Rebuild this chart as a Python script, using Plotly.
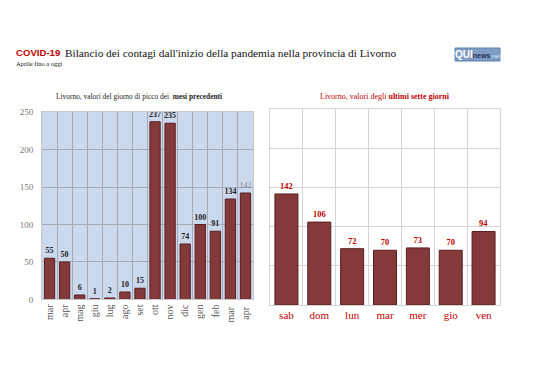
import plotly.graph_objects as go

months = ["mar", "apr", "mag", "giu", "lug", "ago", "set", "ott", "nov", "dic", "gen", "feb", "mar ", "apr "]
month_vals = [55, 50, 6, 1, 2, 10, 15, 237, 235, 74, 100, 91, 134, 142]
days = ["sab", "dom", "lun", "mar", "mer", "gio", "ven"]
day_vals = [142, 106, 72, 70, 73, 70, 94]
y_ticks = [0, 50, 100, 150, 200, 250]

SERIF = "Liberation Serif"
SANS = "Liberation Sans"
BAR = "#843a3a"
EDGE = "#5a1e1e"
RED = "#c00000"

fig = go.Figure()

label_text = ["<b>%d</b>" % v for v in month_vals[:-1]] + [str(month_vals[-1])]
label_colors = ["#222222"] * (len(month_vals) - 1) + ["#888888"]
fig.add_trace(go.Bar(
    x=months, y=month_vals, xaxis="x", yaxis="y",
    marker=dict(color=BAR, line=dict(color=EDGE, width=1)),
    width=0.68,
    text=label_text, textposition="outside",
    textfont=dict(family=SERIF, size=8, color=label_colors),
    cliponaxis=False, showlegend=False, hoverinfo="skip",
))
fig.add_trace(go.Bar(
    x=days, y=day_vals, xaxis="x2", yaxis="y2",
    marker=dict(color=BAR, line=dict(color=EDGE, width=1)),
    width=0.7,
    text=["<b>%d</b>" % v for v in day_vals], textposition="outside",
    textfont=dict(family=SERIF, size=8.5, color=RED),
    cliponaxis=False, showlegend=False, hoverinfo="skip",
))

fig.update_layout(
    width=538, height=380,
    margin=dict(l=0, r=0, t=0, b=0, autoexpand=False),
    paper_bgcolor="white",
    plot_bgcolor="rgba(0,0,0,0)",
    uniformtext=dict(minsize=8, mode="show"),
    xaxis=dict(domain=[0.0632, 0.4554], anchor="y", type="category", automargin=False,
               tickangle=-90, tickson="boundaries", showgrid=True,
               gridcolor="#a9a9b3", gridwidth=1, ticks="outside", ticklen=3,
               tickcolor="rgba(0,0,0,0)",
               tickfont=dict(family=SERIF, size=10, color="#555555"),
               showline=True, linecolor="#c8c8c8", mirror=True),
    yaxis=dict(domain=[0.2329, 0.7263], anchor="x", range=[0, 250], automargin=False,
               tickvals=y_ticks, showgrid=True, gridcolor="#a9a9b3",
               tickfont=dict(family=SERIF, size=9, color="#777777"),
               ticks="outside", ticklen=6, tickcolor="rgba(0,0,0,0)",
               zeroline=False, showline=True, linecolor="#c8c8c8", mirror=True),
    xaxis2=dict(domain=[0.487, 0.9145], anchor="y2", type="category", automargin=False,
                tickson="boundaries", showgrid=True, gridcolor="#d4d4d4",
                ticks="", tickfont=dict(family=SERIF, size=11, color=RED),
                showline=True, linecolor="#d4d4d4", mirror=True),
    yaxis2=dict(domain=[0.2184, 0.7329], anchor="x2", range=[0, 250], automargin=False,
                tickvals=y_ticks, showgrid=True, gridcolor="#d4d4d4",
                showticklabels=False, zeroline=False, ticks="",
                showline=True, linecolor="#d4d4d4", mirror=True),
)

# light blue background of the left panel
fig.add_shape(type="rect", xref="x domain", yref="y domain", x0=0, x1=1, y0=0, y1=1,
              fillcolor="#cbd9ef", line=dict(width=0), layer="below")

fig.add_annotation(
    x=0.011, y=0.882, xref="paper", yref="paper", xanchor="left", yanchor="middle",
    text="<b>COVID-19</b>", font=dict(family=SANS, size=9.6, color=RED), showarrow=False)
fig.add_annotation(
    x=0.1017, y=0.881, xref="paper", yref="paper", xanchor="left", yanchor="middle",
    text="Bilancio dei contagi dall'inizio della pandemia nella provincia di Livorno",
    font=dict(family=SERIF, size=11.3, color="#111111"), showarrow=False)
fig.add_annotation(
    x=0.011, y=0.853, xref="paper", yref="paper", xanchor="left", yanchor="middle",
    text="Aprile fino a oggi", font=dict(family=SERIF, size=6.5, color="#111111"), showarrow=False)

# logo
fig.add_shape(type="rect", xref="paper", yref="paper", x0=0.831, x1=0.9145, y0=0.8605, y1=0.8947,
              fillcolor="#7f9cc4", line=dict(color="#5f7fae", width=1))
fig.add_annotation(
    x=0.873, y=0.8776, xref="paper", yref="paper", xanchor="center", yanchor="middle",
    text="<b>QUI</b><b><span style='font-size:7px;color:#1f2f55'>news</span></b><span style='font-size:6px;color:#dde6f5'>.net</span>",
    font=dict(family=SANS, size=10, color="white"), showarrow=False)

fig.add_annotation(
    x=0.2426, y=0.766, xref="paper", yref="paper", xanchor="center", yanchor="middle",
    text="Livorno, valori del giorno di picco dei  <b>mesi precedenti</b>",
    font=dict(family=SERIF, size=7.4, color="#222222"), showarrow=False)
fig.add_annotation(
    x=0.7007, y=0.766, xref="paper", yref="paper", xanchor="center", yanchor="middle",
    text="Livorno, valori degli <b>ultimi sette giorni</b>",
    font=dict(family=SERIF, size=8, color=RED), showarrow=False)

fig.write_html("out.html")
